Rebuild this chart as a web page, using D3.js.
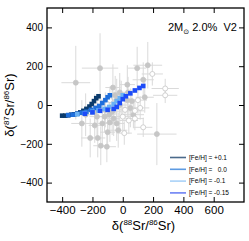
<!DOCTYPE html>
<head>
    <meta charset="utf-8">
    <script src="https://d3js.org/d3.v7.min.js"></script>
    <style>
        body { margin: 0; background: white; }
        text { font-family: "Liberation Sans", Arial, sans-serif; }
    </style>
</head>
<body>
<svg id="graph" width=249 height=241></svg>
<script>
    // grey measured grains: x, y, x error, y error, open marker
    const grainX = [-310, -150, 165, 95, 195, 280, 280, 135, 145, 70, 80, 135, 10, 225, -270, -215, -165, -145, -105,
        -185, -135, -85, -40, -70, -20, 30, 15, 50, -40, -85, -115, 115, 35, -20, -245, -185, 30, -90, -30, -65, 100,
        -120, -60, 0, -170, 60, -10, 40, -100, 80, -50];
    const grainY = [115, 190, 205, 190, 160, 85, 50, 130, 40, -50, -70, -115, -145, -150, -95, -170, -170, -210, -215,
        -105, -95, -90, -95, -35, 0, 25, -25, -15, 25, 25, -25, -15, 65, 65, -50, -35, 105, -50, -130, 90, 25,
        -60, -70, -60, -60, 20, 35, -80, -140, -30, 50];
    const grainXErr = [95, 120, 95, 60, 70, 90, 80, 70, 60, 70, 60, 60, 50, 130, 70, 60, 50, 50, 60,
        40, 50, 60, 50, 60, 70, 60, 50, 60, 50, 60, 50, 60, 60, 50, 50, 60, 50, 40, 60, 50, 60,
        50, 40, 60, 50, 50, 40, 60, 50, 60, 40];
    const grainYErr = [190, 180, 120, 110, 60, 50, 40, 90, 80, 70, 60, 50, 60, 160, 120, 100, 100, 100, 80,
        90, 110, 100, 90, 120, 130, 90, 60, 100, 110, 70, 90, 60, 80, 100, 110, 90, 100, 80, 90, 120, 70,
        80, 90, 70, 100, 60, 90, 70, 80, 60, 100];
    const grainOpen = [0, 0, 0, 0, 1, 1, 1, 0, 0, 0, 1, 1, 1, 0, 0, 0, 0, 0, 0,
        0, 0, 0, 0, 0, 0, 0, 1, 0, 0, 1, 0, 1, 0, 0, 0, 0, 0, 0, 0, 0, 1,
        0, 0, 1, 0, 0, 0, 1, 0, 1, 0];

    // model tracks, one per metallicity
    const feh = ["+0.1", "  0.0", "-0.1", "-0.15"];
    const trackX = [
        [-400, -380, -360, -340, -320, -300, -280, -260, -240, -220, -205, -190, -175, -160],
        [-360, -330, -300, -270, -240, -210, -180, -155, -135, -115, -100, -85],
        [-300, -250, -200, -160, -120, -90, -60, -40, -20, 0],
        [-250, -200, -150, -100, -60, -40, -20, 0, 20, 50, 80, 110, 135]
    ];
    const trackY = [
        [-55, -55, -53, -50, -48, -45, -38, -30, -20, -8, 5, 20, 35, 45],
        [-52, -50, -45, -40, -35, -25, -15, -5, 10, 25, 40, 50],
        [-48, -42, -35, -28, -20, -10, 5, 20, 35, 50],
        [-45, -38, -30, -25, -20, -10, 10, 30, 45, 60, 75, 88, 98]
    ];
    const markColor = ["#0b3b6c", "#1f6fdc", "#6ab2f4", "#1d4cf8"];
    const legendColor = ["#4b6a8b", "#5d9be2", "#a9d2f8", "#6d82f4"];

    const xTicks = [-400, -200, 0, 200, 400, 600];
    const yTicks = [-400, -200, 0, 200, 400];

    const margin = {top: 8, right: 5, bottom: 39, left: 47};
    const width = 249 - margin.left - margin.right,
        height = 241 - margin.top - margin.bottom;

    let svg = d3.select("#graph");

    let x = d3.scaleLinear().domain([-500, 800]).range([margin.left, margin.left + width]);
    let y = d3.scaleLinear().domain([-500, 500]).range([margin.top + height, margin.top]);

    let grains = grainX.map(function (d, i) {
        return {x: d, y: grainY[i], xe: grainXErr[i], ye: grainYErr[i], open: grainOpen[i]};
    });

    svg.append("clipPath").attr("id", "clip").append("rect")
        .attr("x", margin.left).attr("y", margin.top).attr("width", width).attr("height", height);

    let plot = svg.append("g").attr("clip-path", "url(#clip)");

    plot.selectAll("line.xerr").data(grains).enter().append("line")
        .attr("x1", function (d) { return x(d.x - d.xe) })
        .attr("x2", function (d) { return x(d.x + d.xe) })
        .attr("y1", function (d) { return y(d.y) })
        .attr("y2", function (d) { return y(d.y) })
        .style("stroke", "#dadada").style("stroke-width", 1);

    plot.selectAll("line.yerr").data(grains).enter().append("line")
        .attr("x1", function (d) { return x(d.x) })
        .attr("x2", function (d) { return x(d.x) })
        .attr("y1", function (d) { return y(d.y - d.ye) })
        .attr("y2", function (d) { return y(d.y + d.ye) })
        .style("stroke", "#dadada").style("stroke-width", 1);

    plot.selectAll("circle").data(grains).enter().append("circle")
        .attr("cx", function (d) { return x(d.x) })
        .attr("cy", function (d) { return y(d.y) })
        .attr("r", 2.5)
        .style("fill", function (d) { return d.open ? "white" : "#c6c6c6" })
        .style("stroke", "#c6c6c6").style("stroke-width", 0.8);

    trackX.forEach(function (tx, k) {
        let pts = tx.map(function (d, i) { return [d, trackY[k][i]] });
        plot.selectAll("rect.t" + k).data(pts).enter().append("rect")
            .attr("x", function (d) { return x(d[0]) - 2.3 })
            .attr("y", function (d) { return y(d[1]) - 2.3 })
            .attr("width", 4.6).attr("height", 4.6)
            .style("fill", markColor[k]);
    });

    // axes with inward ticks on all four sides
    svg.append("g").attr("transform", "translate(0," + (margin.top + height) + ")")
        .call(d3.axisBottom(x).tickValues(xTicks).tickSizeInner(-5).tickSizeOuter(0).tickPadding(4))
        .call(function (g) { g.select(".domain").remove() })
        .selectAll("text").style("font-size", "11.5px");
    svg.append("g").attr("transform", "translate(0," + margin.top + ")")
        .call(d3.axisTop(x).tickValues(xTicks).tickSizeInner(-5).tickSizeOuter(0).tickFormat(""))
        .call(function (g) { g.select(".domain").remove() });
    svg.append("g").attr("transform", "translate(" + margin.left + ",0)")
        .call(d3.axisLeft(y).tickValues(yTicks).tickSizeInner(-5).tickSizeOuter(0).tickPadding(4))
        .call(function (g) { g.select(".domain").remove() })
        .selectAll("text").style("font-size", "10px");
    svg.append("g").attr("transform", "translate(" + (margin.left + width) + ",0)")
        .call(d3.axisRight(y).tickValues(yTicks).tickSizeInner(-5).tickSizeOuter(0).tickFormat(""))
        .call(function (g) { g.select(".domain").remove() });

    svg.selectAll(".tick text").style("font-family", "Liberation Sans, Arial, sans-serif").style("fill", "black");

    svg.append("rect")
        .attr("x", margin.left).attr("y", margin.top).attr("width", width).attr("height", height)
        .style("fill", "none").style("stroke", "black").style("stroke-width", 1.3);

    // axis titles
    let xt = svg.append("text")
        .attr("x", margin.left + width / 2 - 2).attr("y", 230)
        .style("text-anchor", "middle").style("font-size", "13px");
    xt.append("tspan").text("δ(");
    xt.append("tspan").attr("dy", -5).style("font-size", "8px").text("88");
    xt.append("tspan").attr("dy", 5).text("Sr/");
    xt.append("tspan").attr("dy", -5).style("font-size", "8px").text("86");
    xt.append("tspan").attr("dy", 5).text("Sr)");

    let yt = svg.append("text")
        .attr("transform", "translate(14," + (margin.top + height / 2) + ") rotate(-90)")
        .style("text-anchor", "middle").style("font-size", "13px");
    yt.append("tspan").text("δ(");
    yt.append("tspan").attr("dy", -5).style("font-size", "8px").text("87");
    yt.append("tspan").attr("dy", 5).text("Sr/");
    yt.append("tspan").attr("dy", -5).style("font-size", "8px").text("86");
    yt.append("tspan").attr("dy", 5).text("Sr)");

    // model label
    let lab = svg.append("text").attr("x", 168).attr("y", 31).style("font-size", "11px")
        .attr("xml:space", "preserve");
    lab.append("tspan").text("2M");
    lab.append("tspan").attr("dy", 3).style("font-size", "7px").style("font-family", "DejaVu Sans").text("⊙");
    lab.append("tspan").attr("dy", -3).text(" 2.0%  V2");

    // legend
    let legend = svg.append("g");
    legend.selectAll("line").data(feh).enter().append("line")
        .attr("x1", 170).attr("x2", 186)
        .attr("y1", function (d, i) { return 157.5 + i * 11.8 })
        .attr("y2", function (d, i) { return 157.5 + i * 11.8 })
        .style("stroke", function (d, i) { return legendColor[i] })
        .style("stroke-width", 1.6);
    legend.selectAll("text").data(feh).enter().append("text")
        .attr("x", 189)
        .attr("y", function (d, i) { return 157.5 + i * 11.8 })
        .attr("dy", "0.35em")
        .style("font-size", "6.5px")
        .style("white-space", "pre")
        .attr("xml:space", "preserve")
        .text(function (d) { return "[Fe/H] = " + d });
</script>
</body>
